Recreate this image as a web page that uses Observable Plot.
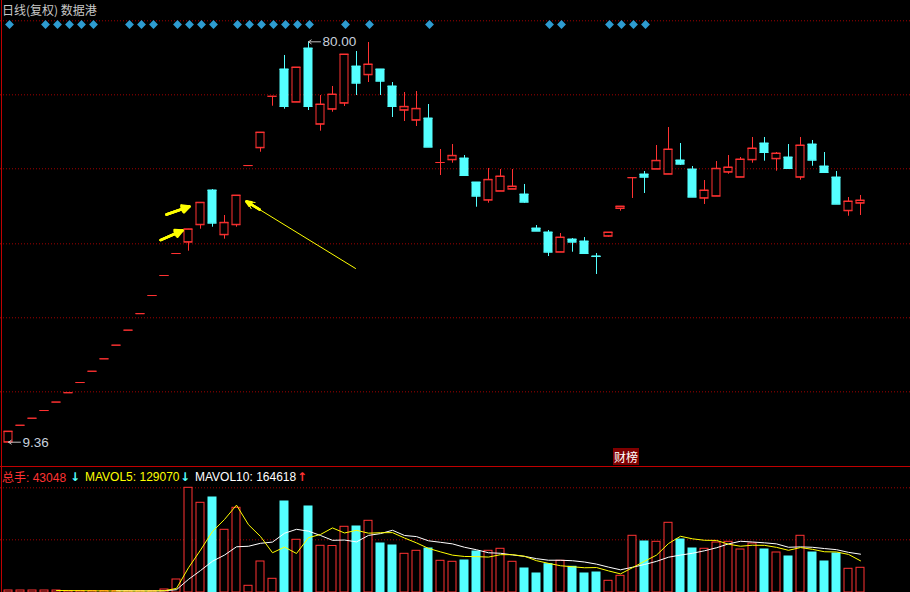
<!DOCTYPE html>
<html><head><meta charset="utf-8">
<script src="https://cdn.jsdelivr.net/npm/d3@7"></script>
<script src="https://cdn.jsdelivr.net/npm/@observablehq/plot@0.6"></script>
<style>
html,body{margin:0;padding:0;background:#000;overflow:hidden}
#wrap{position:relative;width:910px;height:592px;background:#000;overflow:hidden;font-family:"Liberation Sans",Arial,sans-serif}
#price{position:absolute;left:0;top:0}
#vol{position:absolute;left:0;top:466px}
.abs{position:absolute;white-space:nowrap;font-size:12px;line-height:12px}
.cjk{font-family:"Noto Sans CJK SC","Liberation Sans",sans-serif}
.arr{font-family:"DejaVu Sans";font-weight:bold}
</style></head><body>
<div id="wrap">
  <div id="price"></div>
  <div id="vol"></div>
  <div class="abs cjk" style="left:2px;top:3px;color:#c8c8c8;line-height:14px">日线(复权) 数据港</div>
  <div class="abs" style="left:2px;top:471px;color:#ff3232"><span class="cjk">总手</span>: 43048</div>
  <div class="abs arr" style="left:70px;top:471px;color:#54ffff">↓</div>
  <div class="abs" style="left:85px;top:471px;color:#ffff00">MAVOL5: 129070</div>
  <div class="abs arr" style="left:180px;top:471px;color:#54ffff">↓</div>
  <div class="abs" style="left:195px;top:471px;color:#ffffff">MAVOL10: 164618</div>
  <div class="abs arr" style="left:297px;top:471px;color:#ff3232">↑</div>
  <div class="abs cjk" style="left:613px;top:448px;width:26px;height:17px;line-height:17px;text-align:center;background:#800000;color:#fff">财榜</div>
  <div style="position:absolute;left:0;top:466px;width:910px;height:1px;background:#c00000"></div>
  <div style="position:absolute;left:1px;top:0;width:1px;height:592px;background:#c00000"></div>
</div>
<script>
// ---- data ----
const opens  = [9.36,12.35,13.59,14.95,16.44,18.09,19.89,21.88,24.07,26.48,29.13,32.04,35.24,38.77,42.65,
  44.65,47.72,53.77,45.95,47.72,58.17,61.30,70.39,75.12,69.35,78.82,65.46,68.11,69.17,75.64,
  74.18,75.12,72.12,67.93,66.17,66.47,58.71,59.18,59.41,55.18,52.06,53.64,54.00,53.06,47.06,
  46.36,42.88,45.12,44.77,42.13,45.70,50.59,56.03,56.59,57.53,56.64,59.06,57.47,52.41,52.76,
  57.00,56.11,59.18,62.06,59.36,59.59,56.11,61.88,58.00,56.06,50.19,51.53];
const highs  = [11.23,12.35,13.59,14.95,16.44,18.09,19.89,21.88,24.07,26.48,29.13,32.04,35.24,38.77,42.65,
  46.92,51.61,53.94,49.36,52.88,58.17,63.99,70.39,77.59,75.47,80.00,70.53,72.12,77.76,78.29,
  79.88,75.12,72.82,71.06,71.23,68.94,61.00,61.88,59.94,55.18,57.65,57.47,57.47,54.83,47.59,
  46.71,46.18,45.30,45.47,42.65,46.36,50.94,56.03,57.12,61.71,64.88,62.06,58.00,55.53,58.88,
  59.94,59.59,63.12,63.12,60.47,61.88,63.12,62.59,60.47,57.12,52.53,52.89];
const lows   = [9.36,12.35,13.59,14.95,16.44,18.09,19.89,21.88,24.07,26.48,29.13,32.04,35.24,38.77,42.65,
  43.06,46.94,47.29,45.18,47.29,58.17,60.52,68.64,68.11,69.35,67.88,64.23,67.58,68.59,70.53,
  72.82,70.53,66.65,65.94,65.06,61.41,56.41,58.58,56.29,50.82,51.53,53.64,54.00,51.53,46.59,
  42.12,42.88,42.88,42.48,38.95,45.53,50.12,52.36,53.24,57.53,56.64,58.18,52.59,51.30,52.76,
  56.64,56.11,58.58,58.94,57.17,57.47,55.58,58.05,56.77,51.35,49.23,49.36];
const closes = [11.23,12.35,13.59,14.95,16.44,18.09,19.89,21.88,24.07,26.48,29.13,32.04,35.24,38.77,42.65,
  46.92,51.61,48.00,48.07,52.88,58.17,63.99,70.39,68.59,75.47,68.59,68.94,70.70,77.76,72.70,
  76.00,73.05,68.59,68.53,68.18,61.41,58.71,59.89,56.41,52.76,55.65,56.24,54.47,51.70,46.59,
  42.88,45.47,44.65,42.65,42.12,46.36,50.94,56.03,56.11,59.01,61.00,58.41,52.59,53.77,57.60,
  57.83,59.24,61.18,60.47,60.29,57.65,61.71,59.11,56.94,51.35,51.83,52.00];
const volumes = [3490,3490,3490,3490,3490,2610,2610,2610,2610,2610,2610,2610,2610,5230,22660,
  182490,156350,165590,109290,147630,11680,54030,23880,158610,91860,149900,81400,81050,114520,115040,
  124970,85410,81920,67450,72680,76690,55250,53510,55780,71460,72680,76170,53510,41830,33120,
  49330,55250,44800,33120,34860,20390,29110,98830,88890,88370,121490,92380,76690,76170,87150,
  88370,74950,85410,74950,69720,62750,98830,69720,54030,67980,41310,43048];
const priceGrid = [83.71, 70.65, 57.60, 44.36, 31.31, 18.25];
const volGrid = [91856, 182492];
const markerDays = [0,3,4,5,6,7,10,11,12,14,15,16,17,19,20,21,22,23,24,25,28,30,35,45,46,50,51,52,53];
const extremeLabels = [{i: 25, p: 80.00}, {i: 0, p: 9.36}];
const noteArrowsBold = [
  {x1: 13.17, y1: 49.53, x2: 15.08, y2: 50.94},
  {x1: 12.67, y1: 45.03, x2: 14.50, y2: 46.71}
];
const noteArrowLong = [{x1: 28.92, y1: 40.01, x2: 19.83, y2: 51.83}];

// ---- build ----
const RED = "#ff3232", CYAN = "#54ffff", GRID = "#a00000", YEL = "#ffff00";
const candles = closes.map((c, i) => ({i, o: opens[i], h: highs[i], l: lows[i], c, v: volumes[i], up: c >= opens[i]}));
const hw = 4/12;
const xDomain = [-8/12, (910-8)/12];
const colorOf = d => d.up ? RED : CYAN;
const fillOf = d => d.up ? "#000000" : CYAN;

function ma(k) {
  const out = [];
  for (let i = k - 1; i < volumes.length; i++) {
    out.push({i, m: d3.mean(volumes.slice(i - k + 1, i + 1))});
  }
  return out;
}
const ma5 = ma(5), ma10 = ma(10);

const longHead = noteArrowLong.map(d => ({x1: d.x2 + (d.x1 - d.x2) * 0.12, y1: d.y2 + (d.y1 - d.y2) * 0.12, x2: d.x2, y2: d.y2}));

const priceChart = Plot.plot({
  width: 910, height: 466, margin: 0,
  style: {background: "#000", overflow: "visible"},
  x: {domain: xDomain, axis: null},
  y: {domain: [5.073, 87.29], axis: null},
  color: {type: "identity"},
  marks: [
    Plot.ruleY(priceGrid, {stroke: GRID, strokeDasharray: "1,2"}),
    Plot.dot(markerDays, {x: d => d, frameAnchor: "top", dy: 24, dx: 1, symbol: "diamond2", r: 4, fill: "#2e9bd0", stroke: "none"}),
    Plot.ruleX(candles, {x: "i", y1: "l", y2: "h", stroke: colorOf}),
    Plot.rect(candles, {x1: d => d.i - hw, x2: d => d.i + hw, y1: "o", y2: "c", fill: fillOf, stroke: colorOf}),
    Plot.ruleY(candles, {y: "o", x1: d => d.i - hw, x2: d => d.i + hw, stroke: colorOf, strokeLinecap: "square"}),
    Plot.ruleY(candles, {y: "c", x1: d => d.i - hw, x2: d => d.i + hw, stroke: colorOf, strokeLinecap: "square"}),
    Plot.arrow(extremeLabels, {x1: d => d.i + 1, x2: "i", y1: "p", y2: "p", stroke: "#c0c0c0", strokeWidth: 1, headLength: 5, headAngle: 70}),
    Plot.text(extremeLabels, {x: "i", y: "p", text: d => d.p.toFixed(2), dx: 14, textAnchor: "start", lineAnchor: "middle",
      fill: "#c8d0dc", fontSize: 13.5, fontFamily: "'Liberation Sans Narrow','Liberation Sans',Arial"}),
    ...[55, 35, 12].map(a => Plot.arrow(noteArrowsBold, {x1: "x1", y1: "y1", x2: "x2", y2: "y2", stroke: YEL, strokeWidth: 2.5, headLength: 8, headAngle: a})),
    Plot.arrow(noteArrowLong, {x1: "x1", y1: "y1", x2: "x2", y2: "y2", stroke: YEL, strokeWidth: 1, headLength: 13, headAngle: 50}),
    ...[48, 30, 12].map(a => Plot.arrow(longHead, {x1: "x1", y1: "y1", x2: "x2", y2: "y2", stroke: YEL, strokeWidth: 2.5, headLength: 12, headAngle: a}))
  ]
});
document.getElementById("price").appendChild(priceChart);

const volChart = Plot.plot({
  width: 910, height: 126, margin: 0,
  style: {background: "#000", overflow: "visible"},
  x: {domain: xDomain, axis: null},
  y: {domain: [0, 219618], axis: null},
  color: {type: "identity"},
  marks: [
    Plot.ruleY(volGrid, {stroke: GRID, strokeDasharray: "1,2"}),
    Plot.rect(candles, {x1: d => d.i - hw, x2: d => d.i + hw, y1: 0, y2: "v", fill: fillOf, stroke: colorOf}),
    Plot.line(ma10, {x: "i", y: "m", stroke: "#ffffff", strokeWidth: 1}),
    Plot.line(ma5, {x: "i", y: "m", stroke: YEL, strokeWidth: 1})
  ]
});
document.getElementById("vol").appendChild(volChart);
</script>
</body></html>
